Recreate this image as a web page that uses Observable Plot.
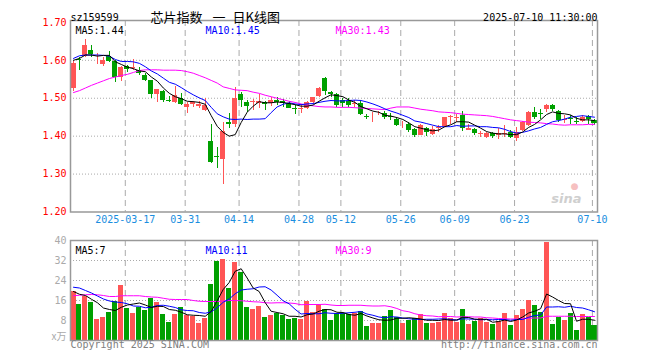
<!DOCTYPE html>
<html><head><meta charset="utf-8">
<script src="https://cdn.jsdelivr.net/npm/d3@7"></script>
<script src="https://cdn.jsdelivr.net/npm/@observablehq/plot@0.6"></script>
<style>
body{margin:0;background:#fff;}
#chart{position:relative;width:660px;height:360px;overflow:hidden;background:#fff;}
#price,#vol{position:absolute;left:0;}
#price{top:0;}
#vol{top:230px;}
</style></head><body>
<div id="chart"><div id="price"></div><div id="vol"></div></div>
<script>
// ---- data ----
const xTickIndex = [9,19,28,38,45,55,64,74,87];
const xTickLabels = ["2025-03-17","03-31","04-14","04-28","05-12","05-26","06-09","06-23","07-10"];
const priceTicks = [1.20,1.30,1.40,1.50,1.60,1.70];
const priceGrid = [1.30,1.40,1.50,1.60];
const volTicks = [8,16,24,32,40];
const volGrid = [8,16,24,32];

const open = [1.526,1.601,1.610,1.627,1.609,1.590,1.609,1.598,1.554,1.585,
1.579,1.572,1.559,1.546,1.511,1.519,1.494,1.489,1.500,1.475,
1.484,1.477,1.467,1.385,1.347,1.339,1.437,1.430,1.509,1.488,
1.489,1.486,1.488,1.486,1.493,1.491,1.486,1.473,1.471,1.472,
1.489,1.504,1.552,1.516,1.509,1.495,1.491,1.483,1.486,1.452,
1.456,1.459,1.461,1.453,1.445,1.430,1.432,1.417,1.402,1.419,
1.404,1.419,1.425,1.448,1.447,1.454,1.416,1.417,1.405,1.396,
1.408,1.403,1.405,1.410,1.393,1.415,1.428,1.463,1.460,1.469,
1.480,1.464,1.442,1.446,1.439,1.439,1.451,1.441];
const high = [1.596,1.608,1.654,1.638,1.618,1.607,1.622,1.600,1.585,1.587,
1.602,1.581,1.565,1.547,1.523,1.521,1.505,1.530,1.512,1.489,
1.491,1.491,1.498,1.430,1.370,1.437,1.460,1.528,1.515,1.493,
1.496,1.511,1.491,1.501,1.501,1.497,1.491,1.482,1.483,1.492,
1.502,1.528,1.554,1.518,1.513,1.500,1.500,1.495,1.495,1.457,
1.463,1.465,1.465,1.460,1.450,1.438,1.437,1.419,1.430,1.423,
1.425,1.428,1.450,1.454,1.457,1.464,1.432,1.419,1.413,1.410,
1.410,1.419,1.428,1.415,1.423,1.438,1.464,1.476,1.471,1.484,
1.484,1.467,1.454,1.454,1.450,1.454,1.454,1.443];
const low = [1.519,1.573,1.607,1.607,1.589,1.584,1.594,1.541,1.543,1.567,
1.572,1.559,1.545,1.499,1.489,1.489,1.489,1.486,1.480,1.459,
1.475,1.473,1.464,1.327,1.315,1.272,1.419,1.423,1.476,1.462,
1.467,1.473,1.467,1.479,1.482,1.475,1.472,1.458,1.459,1.469,
1.486,1.502,1.507,1.502,1.476,1.476,1.476,1.476,1.454,1.443,
1.437,1.454,1.443,1.441,1.426,1.419,1.410,1.397,1.402,1.399,
1.402,1.410,1.423,1.432,1.437,1.413,1.415,1.402,1.396,1.393,
1.393,1.390,1.397,1.393,1.386,1.412,1.425,1.443,1.445,1.463,
1.465,1.437,1.434,1.430,1.430,1.437,1.432,1.428];
const close = [1.591,1.599,1.640,1.616,1.611,1.600,1.598,1.554,1.581,1.576,
1.582,1.565,1.547,1.510,1.522,1.493,1.491,1.506,1.484,1.484,
1.489,1.484,1.480,1.331,1.344,1.4125,1.430,1.500,1.495,1.477,
1.491,1.492,1.484,1.495,1.490,1.486,1.474,1.470,1.474,1.489,
1.501,1.525,1.517,1.511,1.482,1.486,1.480,1.486,1.458,1.450,
1.458,1.461,1.448,1.450,1.428,1.432,1.415,1.402,1.428,1.410,
1.417,1.423,1.448,1.451,1.450,1.419,1.419,1.408,1.408,1.408,
1.399,1.406,1.408,1.397,1.410,1.436,1.463,1.450,1.457,1.480,
1.471,1.441,1.445,1.443,1.437,1.448,1.444,1.434];
const volume = [19.6,14.4,17.6,15.3,8.4,9.2,11.3,15.7,22.0,12.9,
10.9,13.3,12.0,16.9,15.3,10.4,7.3,10.4,13.2,10.0,
9.7,6.9,8.8,22.4,31.7,32.4,20.8,31.3,27.3,13.3,
12.4,13.6,9.2,10.0,10.9,10.0,8.5,8.9,8.5,15.7,
11.3,14.1,12.4,8.0,10.7,10.7,10.4,10.7,11.7,5.6,
6.8,6.8,9.6,12.0,9.1,6.8,8.0,8.7,10.3,6.8,
6.8,7.2,10.9,8.9,7.2,12.4,6.4,7.7,8.9,7.2,
6.4,7.7,10.8,6.0,10.0,12.4,16.0,14.0,11.3,39.2,
6.4,9.2,8.0,10.8,4.0,10.4,9.2,6.0];

const priceMA5 = [1.600,1.605,1.614,1.614,1.611,1.613,1.613,1.596,1.589,1.582,
1.578,1.572,1.570,1.556,1.545,1.527,1.513,1.504,1.499,1.492,
1.491,1.489,1.484,1.454,1.426,1.410,1.400,1.404,1.436,1.463,
1.479,1.491,1.488,1.488,1.490,1.489,1.486,1.483,1.479,1.479,
1.482,1.492,1.501,1.509,1.507,1.504,1.495,1.489,1.478,1.472,
1.466,1.463,1.455,1.453,1.449,1.444,1.435,1.425,1.421,1.417,
1.414,1.416,1.425,1.430,1.438,1.438,1.437,1.429,1.421,1.412,
1.408,1.406,1.406,1.404,1.404,1.411,1.423,1.431,1.443,1.457,
1.464,1.460,1.459,1.456,1.447,1.443,1.443,1.441];
const priceMA10 = [1.605,1.612,1.614,1.614,1.614,1.613,1.611,1.602,1.597,1.597,
1.596,1.592,1.583,1.572,1.564,1.553,1.542,1.537,1.528,1.518,
1.509,1.501,1.494,1.476,1.459,1.451,1.445,1.444,1.445,1.444,
1.445,1.445,1.446,1.462,1.477,1.484,1.488,1.485,1.483,1.485,
1.486,1.489,1.492,1.494,1.493,1.493,1.494,1.495,1.494,1.490,
1.485,1.479,1.472,1.466,1.461,1.455,1.449,1.440,1.437,1.433,
1.429,1.425,1.425,1.425,1.428,1.426,1.427,1.427,1.425,1.425,
1.423,1.422,1.418,1.412,1.408,1.410,1.414,1.419,1.423,1.431,
1.438,1.441,1.445,1.450,1.452,1.454,1.452,1.450];
const priceMA30 = [1.515,1.520,1.527,1.534,1.540,1.546,1.552,1.556,1.560,1.563,
1.568,1.573,1.575,1.575,1.575,1.574,1.574,1.574,1.573,1.570,
1.566,1.560,1.554,1.547,1.540,1.530,1.526,1.522,1.521,1.520,
1.516,1.513,1.508,1.504,1.500,1.496,1.492,1.489,1.485,1.482,
1.480,1.478,1.477,1.477,1.476,1.476,1.476,1.475,1.474,1.473,
1.472,1.471,1.470,1.474,1.477,1.477,1.477,1.474,1.471,1.469,
1.467,1.464,1.463,1.462,1.460,1.458,1.457,1.456,1.455,1.454,
1.452,1.449,1.446,1.443,1.441,1.439,1.437,1.436,1.435,1.433,
1.432,1.430,1.429,1.430,1.430,1.430,1.431,1.431];

const volMA5 = [19.6,18.5,18.0,16.5,15.1,13.0,12.4,12.0,13.3,14.2,
14.6,15.0,14.2,13.2,13.7,13.6,12.4,12.1,11.3,10.3,
10.1,10.0,9.7,11.6,15.9,20.4,23.2,27.7,28.7,25.0,
21.0,19.6,15.2,11.7,11.2,10.7,9.7,9.7,9.4,10.3,
10.6,11.7,12.4,12.3,11.3,11.2,10.4,10.1,10.8,9.8,
9.0,8.3,8.1,8.2,8.9,8.9,9.1,8.9,8.6,8.1,
8.1,8.0,8.4,8.1,8.2,9.3,9.2,8.5,8.5,8.5,
7.3,7.6,8.2,7.6,8.2,9.4,11.0,11.7,12.7,18.6,
17.4,16.0,14.8,14.7,7.7,8.5,8.5,8.1];
const volMA10 = [21.3,21.0,20.0,19.0,17.8,16.6,15.8,15.4,15.2,14.7,
13.8,13.7,13.1,13.3,14.0,14.1,13.7,13.2,12.3,12.0,
11.9,11.2,10.9,11.5,13.1,15.3,16.6,18.7,20.2,20.5,
20.7,21.4,21.5,20.2,18.1,15.9,14.7,12.5,10.6,10.8,
10.7,10.7,11.1,10.9,10.8,10.9,11.1,11.3,11.6,10.6,
10.1,9.4,9.1,9.5,9.4,9.0,8.7,8.5,8.4,8.5,
8.5,8.6,8.7,8.4,8.2,8.7,8.6,8.5,8.3,8.4,
8.3,8.4,8.4,8.1,8.4,8.4,9.3,10.0,10.2,13.4,
13.4,13.5,13.3,13.7,13.2,13.0,12.3,11.5];
const volMA30 = [17.9,18.1,18.3,18.4,18.3,18.0,17.6,17.6,17.9,17.9,
17.9,17.9,17.6,17.4,17.3,16.9,16.5,16.4,16.4,16.4,
16.0,15.7,15.6,15.6,15.6,15.8,16.0,16.0,15.9,15.7,
15.5,15.4,15.1,15.0,15.1,15.1,15.0,14.8,14.3,14.4,
14.4,14.4,14.5,14.2,14.0,14.0,14.1,14.1,14.1,13.9,
13.8,13.8,13.9,13.5,12.8,11.9,11.5,10.7,10.2,9.9,
9.8,9.5,9.6,9.6,9.4,9.5,9.5,9.4,9.4,9.1,
9.0,8.8,8.7,8.6,8.6,8.7,8.9,9.0,9.0,9.7,
9.7,9.7,9.7,9.7,9.6,9.6,9.6,9.6];

const symbol = "sz159599";
const titleParts = ["芯片指数","一","日K线图"];
const timestamp = "2025-07-10 11:30:00";
const priceMALabels = ["MA5:1.44","MA10:1.45","MA30:1.43"];
const volMALabels = ["MA5:7","MA10:11","MA30:9"];
const volUnit = "x万";
const footLeft = "Copyright 2025 SINA.COM";
const footRight = "http://finance.sina.com.cn";

// ---- build ----
const UP = "#ff5555", DN = "#00a000";
const MA_COLORS = ["#000000","#0000ff","#ff00ff"]; // MA5, MA10, MA30
const n = close.length;
const idx = d3.range(n);
const rows = idx.map(i => ({i, o: open[i], h: high[i], l: low[i], c: close[i], v: volume[i],
  col: close[i] >= open[i] ? UP : DN}));
const half = 0.42;
const mono = '"DejaVu Sans Mono", monospace';
const cjk = '"Noto Sans CJK SC", sans-serif';
const xScale = {type: "linear", domain: [-0.5, n - 0.5], axis: null};
const baseStyle = {fontFamily: mono, fontSize: "10px", background: "transparent", overflow: "visible"};
const maDx = [5, 135, 265];

// arrs in order [MA5, MA10, MA30]; drawn MA30 first so MA5 ends on top
function maLines(arrs) {
  return arrs.map((a, k) => Plot.line(idx, {x: i => i, y: i => a[i], stroke: MA_COLORS[k], strokeWidth: 1})).reverse();
}
function maText(labels) {
  return labels.map((t, k) => Plot.text([t], {frameAnchor: "top-left", dx: maDx[k], dy: 6,
    text: d => d, textAnchor: "start", fill: MA_COLORS[k], fontSize: 10}));
}
const vGrid = Plot.ruleX(xTickIndex, {x: d => d - 0.35, stroke: "#aaa", strokeDasharray: "6,4"});

const price = Plot.plot({
  width: 660, height: 230,
  marginTop: 20, marginBottom: 18.5, marginLeft: 70, marginRight: 63,
  x: xScale,
  y: {domain: [1.2, 1.705], axis: null},
  color: {type: "identity"},
  style: baseStyle,
  marks: [
    Plot.ruleY(priceGrid, {stroke: "#aaa", strokeDasharray: "1,2"}),
    vGrid,
    Plot.ruleX(rows, {x: "i", y1: "l", y2: "h", stroke: "col", shapeRendering: "crispEdges"}),
    Plot.rect(rows, {x1: d => d.i - half, x2: d => d.i + half, y1: "o", y2: "c", fill: "col", shapeRendering: "crispEdges"}),
    ...maLines([priceMA5, priceMA10, priceMA30]),
    Plot.frame({stroke: "#999", strokeWidth: 1.5}),
    Plot.text(priceTicks, {y: d => d, text: d => d.toFixed(2), frameAnchor: "left", dx: -4, textAnchor: "end", fill: "#f00", fontSize: 10}),
    Plot.text(xTickIndex, {x: d => d - 0.35, text: (d, i) => xTickLabels[i], frameAnchor: "bottom", dy: 10.5, fill: "#1a8ee0", fontSize: 10}),
    Plot.text([symbol], {frameAnchor: "top-left", dy: -7, text: d => d, textAnchor: "start", fill: "#000"}),
    Plot.text([titleParts[0]], {frameAnchor: "top-left", dx: 80, dy: -8, text: d => d, textAnchor: "start", fontFamily: cjk, fontSize: 13, fill: "#000"}),
    Plot.text([titleParts[1]], {frameAnchor: "top-left", dx: 142, dy: -8, text: d => d, textAnchor: "start", fontFamily: cjk, fontSize: 13, fill: "#000"}),
    Plot.text([titleParts[2]], {frameAnchor: "top-left", dx: 162, dy: -8, text: d => d, textAnchor: "start", fontFamily: cjk, fontSize: 13, fill: "#000"}),
    Plot.text([timestamp], {frameAnchor: "top-right", dy: -7, text: d => d, textAnchor: "end", fill: "#000"}),
    ...maText(priceMALabels),
    Plot.text(["●"], {frameAnchor: "bottom-right", dx: -19, dy: -23, text: d => d, fill: "#f6c0c0", fontSize: 9, fontFamily: "DejaVu Sans"}),
    Plot.text(["sina"], {frameAnchor: "bottom-right", dx: -16, dy: -9, text: d => d, fill: "#cfcfcf", fontSize: 13, fontStyle: "italic", fontWeight: "bold", fontFamily: "DejaVu Sans"})
  ]
});
document.getElementById("price").append(price);

const vol = Plot.plot({
  width: 660, height: 130,
  marginTop: 10, marginBottom: 20, marginLeft: 70, marginRight: 63,
  x: xScale,
  y: {domain: [0, 40], axis: null},
  color: {type: "identity"},
  style: baseStyle,
  marks: [
    Plot.ruleY(volGrid, {stroke: "#aaa", strokeDasharray: "1,2"}),
    vGrid,
    Plot.rect(rows, {x1: d => d.i - half, x2: d => d.i + half, y1: 0, y2: "v", fill: "col", shapeRendering: "crispEdges"}),
    ...maLines([volMA5, volMA10, volMA30]),
    Plot.frame({stroke: "#999", strokeWidth: 1.5}),
    Plot.text(volTicks, {y: d => d, text: d => String(d), frameAnchor: "left", dx: -4, textAnchor: "end", fill: "#aaa", fontSize: 10}),
    Plot.text([volUnit], {frameAnchor: "bottom-left", dx: -4, dy: -1, text: d => d, textAnchor: "end", fill: "#aaa", fontSize: 10, fontFamily: cjk}),
    ...maText(volMALabels),
    Plot.text([footLeft], {frameAnchor: "bottom-left", dy: 7, text: d => d, textAnchor: "start", fill: "#808080"}),
    Plot.text([footRight], {frameAnchor: "bottom-right", dy: 7, text: d => d, textAnchor: "end", fill: "#808080"})
  ]
});
document.getElementById("vol").append(vol);
</script>
</body></html>
